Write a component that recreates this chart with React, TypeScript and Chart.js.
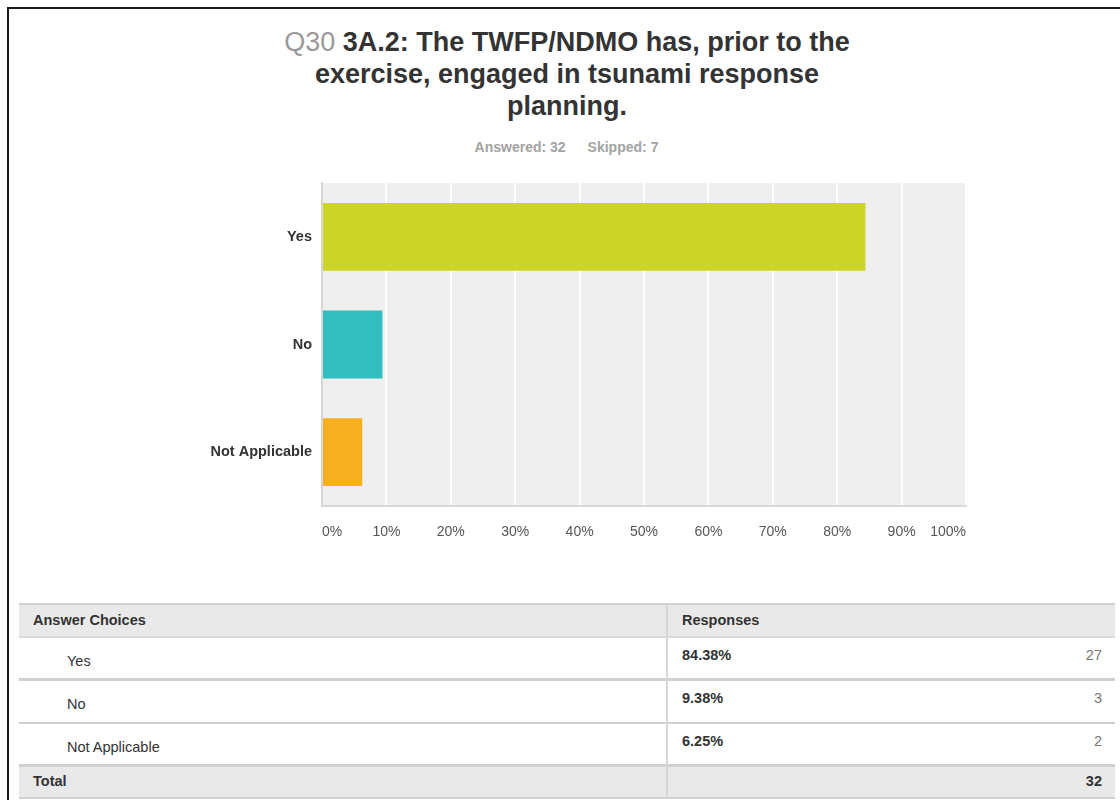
import React, { useEffect, useRef } from "react";
import { Chart, registerables } from "chart.js";

Chart.register(...registerables);

const questionId = "Q30";
const titleLines = [
  "3A.2: The TWFP/NDMO has, prior to the",
  "exercise, engaged in tsunami response",
  "planning.",
];
const answered = 32;
const skipped = 7;
const categories = ["Yes", "No", "Not Applicable"];
const percentages = [84.38, 9.38, 6.25];
const counts = [27, 3, 2];
const total = 32;
const barColors = ["#cdd428", "#33bdbf", "#f7ae1f"];

const FONT = '"Liberation Sans", Arial, Helvetica, sans-serif';

const plotBg = {
  id: "plotBg",
  beforeDraw(chart: any) {
    const { ctx, chartArea } = chart;
    if (!chartArea) return;
    ctx.save();
    ctx.fillStyle = "#efefef";
    ctx.fillRect(chartArea.left, chartArea.top, chartArea.right - chartArea.left, chartArea.bottom - chartArea.top);
    ctx.restore();
  },
};

function BarChart() {
  const ref = useRef<HTMLCanvasElement | null>(null);
  useEffect(() => {
    if (!ref.current) return;
    const chart = new Chart(ref.current, {
      type: "bar",
      data: {
        labels: categories,
        datasets: [
          {
            data: percentages,
            backgroundColor: barColors,
            borderWidth: 0,
            barPercentage: 0.63,
            categoryPercentage: 1,
          },
        ],
      },
      options: {
        indexAxis: "y",
        responsive: false,
        animation: false,
        layout: { padding: { top: 23, right: 154, bottom: 10, left: 0 } },
        plugins: { legend: { display: false }, tooltip: { enabled: false }, title: { display: false } },
        scales: {
          x: {
            min: 0,
            max: 100,
            ticks: {
              stepSize: 10,
              callback: (v: any) => v + "%",
              font: { family: FONT, size: 14 },
              color: "#555555",
              padding: 18,
              align: "inner",
              maxRotation: 0,
              autoSkip: false,
            },
            grid: { color: "#ffffff", lineWidth: 2, drawTicks: false },
            border: { color: "#d8d8d8", width: 2 },
            afterFit: (s: any) => {
              s.height = 44;
            },
          },
          y: {
            ticks: {
              font: { family: FONT, size: 14.5, weight: "bold" },
              color: "#333333",
              padding: 10,
            },
            grid: { display: false, drawTicks: false },
            border: { color: "#d6d6d6", width: 2 },
            afterFit: (s: any) => {
              s.width = 322;
            },
          },
        },
      },
      plugins: [plotBg],
    } as any);
    return () => chart.destroy();
  }, []);
  return (
    <canvas
      ref={ref}
      width={1120}
      height={400}
      style={{ position: "absolute", left: 0, top: 160, width: 1120, height: 400 }}
    />
  );
}

const cellText = (extra: React.CSSProperties): React.CSSProperties => ({
  position: "absolute",
  fontFamily: FONT,
  fontSize: 14.5,
  lineHeight: "18px",
  color: "#333",
  whiteSpace: "nowrap",
  ...extra,
});

function ResultTable() {
  const rowTops = [638, 681, 724];
  const rowHeights = [40, 41, 40];
  return (
    <div>
      <div style={{ position: "absolute", left: 19, top: 603, width: 1096, height: 2, background: "#d2d2d2" }} />
      <div style={{ position: "absolute", left: 19, top: 605, width: 1096, height: 31, background: "#e9e9e9" }} />
      <div style={{ position: "absolute", left: 19, top: 636, width: 1096, height: 2, background: "#dadada" }} />
      <div style={cellText({ left: 33, top: 611, fontWeight: "bold" })}>Answer Choices</div>
      <div style={cellText({ left: 682, top: 611, fontWeight: "bold" })}>Responses</div>
      {categories.map((c, i) => (
        <React.Fragment key={c}>
          <div style={{ position: "absolute", left: 19, top: rowTops[i], width: 1096, height: rowHeights[i], background: "#fff" }} />
          <div style={{ position: "absolute", left: 19, top: rowTops[i] + rowHeights[i], width: 1096, height: 3, background: "#d0d0d0" }} />
          <div style={cellText({ left: 67, top: rowTops[i] + 14 })}>{c}</div>
          <div style={cellText({ left: 682, top: rowTops[i] + 8, fontWeight: "bold" })}>{percentages[i].toFixed(2) + "%"}</div>
          <div style={cellText({ right: 1120 - 1102, top: rowTops[i] + 8, color: "#777" })}>{counts[i]}</div>
        </React.Fragment>
      ))}
      <div style={{ position: "absolute", left: 19, top: 767, width: 1096, height: 30, background: "#e9e9e9" }} />
      <div style={{ position: "absolute", left: 19, top: 797, width: 1096, height: 2, background: "#d2d2d2" }} />
      <div style={cellText({ left: 33, top: 772, fontWeight: "bold" })}>Total</div>
      <div style={cellText({ right: 1120 - 1102, top: 772, fontWeight: "bold" })}>{total}</div>
      <div style={{ position: "absolute", left: 666, top: 605, width: 2, height: 192, background: "#d6d6d6" }} />
    </div>
  );
}

export default function App() {
  return (
    <div style={{ position: "absolute", left: 0, top: 0, width: 1120, height: 800, background: "#fff", overflow: "hidden" }}>
      <div
        style={{
          position: "absolute",
          left: 7,
          top: 7,
          width: 1113,
          height: 793,
          borderLeft: "2px solid #1a1a1a",
          borderTop: "2px solid #1a1a1a",
          boxSizing: "border-box",
        }}
      />
      <div
        style={{
          position: "absolute",
          left: 0,
          top: 26,
          width: 1134,
          textAlign: "center",
          fontFamily: FONT,
          fontSize: 27,
          lineHeight: "32px",
          fontWeight: "bold",
          color: "#333",
        }}
      >
        {titleLines.map((l, i) => (
          <div key={i}>
            {i === 0 ? <span style={{ color: "#9a9a9a", fontWeight: "normal" }}>{questionId} </span> : null}
            {l}
          </div>
        ))}
      </div>
      <div
        style={{
          position: "absolute",
          left: 0,
          top: 139,
          width: 1133,
          textAlign: "center",
          fontFamily: FONT,
          fontSize: 14,
          lineHeight: "16px",
          fontWeight: "bold",
          color: "#a3a3a3",
        }}
      >
        <span>Answered: {answered}</span>
        <span style={{ marginLeft: 22 }}>Skipped: {skipped}</span>
      </div>
      <BarChart />
      <ResultTable />
    </div>
  );
}
